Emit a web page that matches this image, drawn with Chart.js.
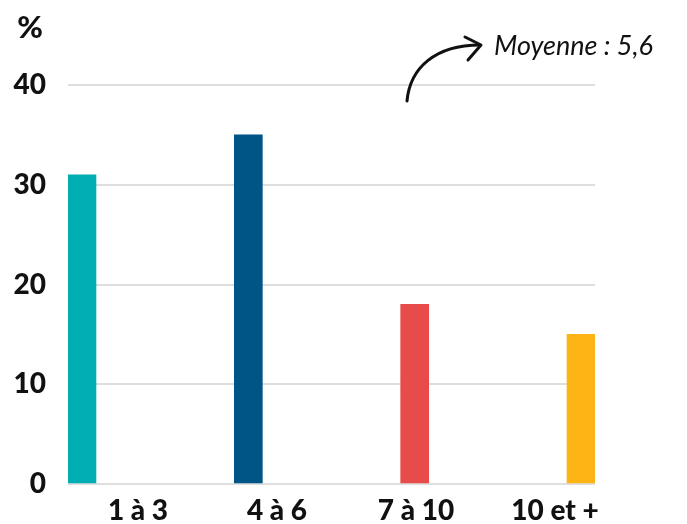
<!DOCTYPE html>
<html lang="fr">
<head>
   <meta charset="UTF-8">
   <title>Moyenne</title>
   <style>
      html, body { margin: 0; padding: 0; background: #fff; }
      .wrap { width: 687px; height: 524px; }
   </style>
   <script src="https://cdn.jsdelivr.net/npm/chart.js@4"></script>
</head>
<body>
   <div class="wrap">
      <canvas id="chart" width="687" height="524"></canvas>
   </div>
   <script>
      // data
      const categories = ['1 à 3', '4 à 6', '7 à 10', '10 et +'];
      const values = [31, 35, 18, 15];
      const barColors = ['#00aeb3', '#005587', '#e84c4a', '#fdb515'];
      const yTicks = [0, 10, 20, 30, 40];
      const unitLabel = '%';
      const noteText = 'Moyenne : 5,6';

      const tickFont = { family: 'Lato', size: 28, weight: '900' };

      // "%" + annotation with arrow
      const extras = {
         id: 'extras',
         afterDraw(chart) {
            const ctx = chart.ctx;
            ctx.save();
            ctx.fillStyle = '#111';
            ctx.font = '900 31px Lato';
            ctx.textAlign = 'center';
            ctx.textBaseline = 'middle';
            ctx.fillText(unitLabel, 30, 28);

            ctx.font = 'italic 27px Lato';
            ctx.textAlign = 'left';
            ctx.textBaseline = 'alphabetic';
            ctx.fillText(noteText, 494, 55);

            ctx.strokeStyle = '#111';
            ctx.lineWidth = 3;
            ctx.lineCap = 'round';
            ctx.lineJoin = 'round';
            ctx.beginPath();
            ctx.moveTo(407, 101);
            ctx.bezierCurveTo(410, 68, 435, 45, 480, 45);
            ctx.stroke();
            ctx.beginPath();
            ctx.moveTo(465, 37);
            ctx.lineTo(481, 45);
            ctx.lineTo(468, 60);
            ctx.stroke();
            ctx.restore();
         }
      };

      new Chart(document.getElementById('chart'), {
         type: 'bar',
         data: {
            datasets: [{
               data: values.map((v, i) => ({ x: i, y: v })),
               backgroundColor: barColors,
               barThickness: 28,
               xAxisID: 'x',
               yAxisID: 'y'
            }]
         },
         options: {
            responsive: false,
            animation: false,
            layout: { padding: { top: 85, right: 92, left: 0, bottom: 0 } },
            plugins: { legend: { display: false }, tooltip: { enabled: false } },
            scales: {
               x: {
                  type: 'linear',
                  display: false,
                  min: -0.084,
                  max: 3.084,
                  offset: false
               },
               // second axis only for the category labels
               xl: {
                  type: 'linear',
                  position: 'bottom',
                  min: -0.5036,
                  max: 3.2878,
                  offset: false,
                  grid: { display: false, drawTicks: false },
                  border: { display: false },
                  afterBuildTicks: (s) => { s.ticks = categories.map((c, i) => ({ value: i })); },
                  afterFit: (s) => { s.height = 40; },
                  ticks: {
                     color: '#111',
                     font: tickFont,
                     padding: 10,
                     maxRotation: 0,
                     autoSkip: false,
                     callback: (v) => categories[v]
                  }
               },
               y: {
                  min: 0,
                  max: 40,
                  afterBuildTicks: (s) => { s.ticks = yTicks.map(v => ({ value: v })); },
                  afterFit: (s) => { s.width = 68; },
                  grid: { color: '#dedede', lineWidth: 2, drawTicks: false },
                  border: { display: false },
                  ticks: {
                     color: '#111',
                     font: tickFont,
                     padding: 22
                  }
               }
            }
         },
         plugins: [extras]
      });
   </script>
</body>
</html>
